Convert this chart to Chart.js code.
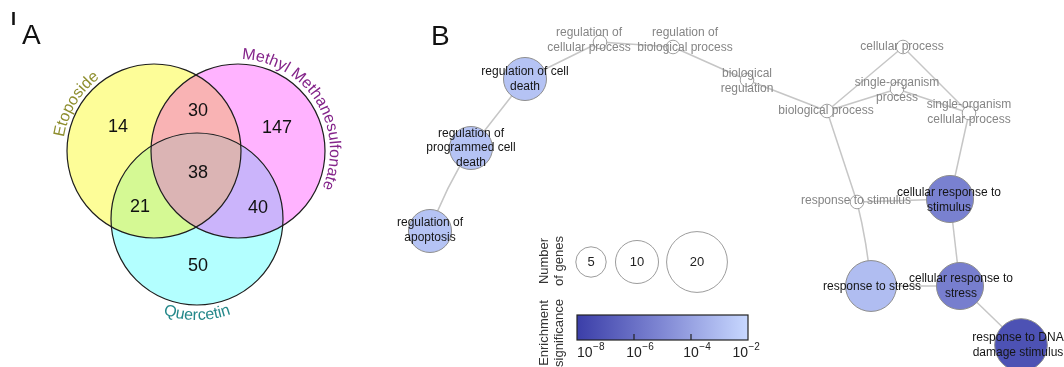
<!DOCTYPE html>
<html><head><meta charset="utf-8">
<script src="https://cdn.jsdelivr.net/npm/chart.js@4"></script>
<style>html,body{margin:0;padding:0;background:#fff}canvas{display:block}</style>
</head><body>
<canvas id="c" width="1064" height="367"></canvas>
<script>
// ---------- DATA ----------
// Panel A: Venn diagram
const vennSets = ['Etoposide', 'Methyl Methanesulfonate', 'Quercetin'];
const vennRegions = ['E', 'M', 'Q', 'E∩M', 'E∩Q', 'M∩Q', 'E∩M∩Q'];
const vennCounts = [14, 147, 50, 30, 21, 40, 38];

// Panel B: GO term network
const terms = [
  'regulation of cell death', 'regulation of programmed cell death', 'regulation of apoptosis',
  'regulation of cellular process', 'regulation of biological process', 'biological regulation',
  'biological process', 'cellular process', 'single-organism process', 'single-organism cellular process',
  'response to stimulus', 'cellular response to stimulus', 'response to stress',
  'cellular response to stress', 'response to DNA damage stimulus'
];
const geneCounts = [10, 10, 10, 1, 1, 1, 1, 1, 1, 1, 1, 12, 14, 12, 15];
const log10P = [-2.8, -2.8, -2.8, null, null, null, null, null, null, null, null, -5.3, -3.0, -5.4, -7.2];
const edgeFrom = [0, 0, 1, 3, 4, 5, 6, 6, 8, 7, 6, 9, 10, 10, 11, 12, 13];
const edgeTo   = [3, 1, 2, 4, 5, 6, 7, 8, 9, 9, 10, 11, 11, 12, 13, 13, 14];
const sizeLegendGenes = [5, 10, 20];
const colorbarTicks = [-8, -6, -4, -2];

// ---------- LAYOUT (positions / styles) ----------
const FONT = '"Liberation Sans", Arial, Helvetica, sans-serif';
const vennLayout = {
  cx: [154, 238, 197], cy: [151, 151, 219], r: [87, 87, 86],
  fills: ['#fdfd98', '#ffb3ff', '#b3ffff', '#f9b3b4', '#d5f994', '#cbb4fb', '#dbb4b4'],
  countX: [118, 277, 198, 198, 140, 258, 198],
  countY: [127, 128, 266, 111, 207, 208, 173],
  labelColor: ['#8e8e2e', '#84248a', '#24888a'],
  labelR: [91, 92, 101], labelAngle: [211, -32, 90], labelCW: [true, true, false]
};
const netLayout = {
  x: [525, 471, 430, 600, 673, 747, 827, 903, 897, 969, 857, 950, 871, 960, 1021],
  y: [79, 148, 231, 42, 47, 80, 111, 47, 89, 113, 202, 199, 286, 286, 345],
  labelLines: [
    ['regulation of cell', 'death'], ['regulation of', 'programmed cell', 'death'], ['regulation of', 'apoptosis'],
    ['regulation of', 'cellular process'], ['regulation of', 'biological process'], ['biological', 'regulation'],
    ['biological process'], ['cellular process'], ['single-organism', 'process'], ['single-organism', 'cellular process'],
    ['response to stimulus'], ['cellular response to', 'stimulus'], ['response to stress'],
    ['cellular response to', 'stress'], ['response to DNA', 'damage stimulus']
  ],
  labelX: [525, 471, 430, 589, 685, 747, 826, 902, 897, 969, 856, 949, 872, 961, 1018],
  labelY: [79, 148, 230, 40, 40, 81, 111, 47, 90, 112, 201, 200, 287, 286, 345],
  edgeCurve: [0, 0, 0.06, 0, 0, 0, 0, 0, 0, 0, 0, 0, 0, -0.04, 0, 0, 0],
  sizeLegendX: [591, 637, 697], sizeLegendY: 262,
  bar: {x0: 577, x1: 748, y0: 315, y1: 340}
};
const gradStops = [[59, 62, 168], [128, 136, 212], [200, 216, 255]];
function gradColor(t) {
  t = Math.max(0, Math.min(1, t));
  const s = t < 0.5 ? 0 : 1, lt = t < 0.5 ? t / 0.5 : (t - 0.5) / 0.5;
  const a = gradStops[s], b = gradStops[s + 1];
  return 'rgb(' + a.map((v, i) => Math.round(v + (b[i] - v) * lt)).join(',') + ')';
}
const pToT = p => (p - colorbarTicks[0]) / (colorbarTicks[colorbarTicks.length - 1] - colorbarTicks[0]);
const geneRadius = n => 6.8 * Math.sqrt(n);

// ---------- PLUGINS ----------
function arcText(ctx, text, cx, cy, R, centerDeg, cw, font, color) {
  ctx.save(); ctx.font = font; ctx.fillStyle = color; ctx.textAlign = 'center'; ctx.textBaseline = 'alphabetic';
  const chars = [...text];
  const w = chars.map(ch => ctx.measureText(ch).width);
  const total = w.reduce((a, b) => a + b, 0);
  const span = total / R, c0 = centerDeg * Math.PI / 180;
  let acc = 0;
  chars.forEach((ch, i) => {
    const off = (acc + w[i] / 2) / R - span / 2;
    const a = cw ? c0 + off : c0 - off;
    ctx.save();
    ctx.translate(cx + R * Math.cos(a), cy + R * Math.sin(a));
    ctx.rotate(cw ? a + Math.PI / 2 : a - Math.PI / 2);
    ctx.fillText(ch, 0, 0);
    ctx.restore();
    acc += w[i];
  });
  ctx.restore();
}

const vennFill = {
  id: 'vennFill',
  beforeDatasetsDraw(chart) {
    const ctx = chart.ctx;
    const c = chart.getDatasetMeta(0).data.map(e => ({x: e.x, y: e.y, r: e.options.radius}));
    const circ = k => { ctx.beginPath(); ctx.arc(c[k].x, c[k].y, c[k].r, 0, Math.PI * 2); };
    const f = vennLayout.fills;
    ctx.save();
    [0, 1, 2].forEach(k => { circ(k); ctx.fillStyle = f[k]; ctx.fill(); });
    [[0, 1, 3], [0, 2, 4], [1, 2, 5]].forEach(([a, b, ci]) => {
      ctx.save(); circ(a); ctx.clip(); circ(b); ctx.fillStyle = f[ci]; ctx.fill(); ctx.restore();
    });
    ctx.save(); circ(0); ctx.clip(); circ(1); ctx.clip(); circ(2); ctx.fillStyle = f[6]; ctx.fill(); ctx.restore();
    ctx.restore();
  }
};

const edgesPlugin = {
  id: 'edges',
  beforeDatasetsDraw(chart) {
    const ctx = chart.ctx, nodes = chart.getDatasetMeta(1).data;
    ctx.save(); ctx.strokeStyle = '#c6c6c6'; ctx.lineWidth = 1.5;
    edgeFrom.forEach((a, i) => {
      const p = nodes[a], q = nodes[edgeTo[i]];
      const k = netLayout.edgeCurve[i];
      const mx = (p.x + q.x) / 2, my = (p.y + q.y) / 2;
      const dx = q.x - p.x, dy = q.y - p.y;
      ctx.beginPath(); ctx.moveTo(p.x, p.y);
      ctx.quadraticCurveTo(mx - dy * k, my + dx * k, q.x, q.y);
      ctx.stroke();
    });
    ctx.restore();
  }
};

const textPlugin = {
  id: 'texts',
  afterDatasetsDraw(chart) {
    const ctx = chart.ctx, sx = chart.scales.x, sy = chart.scales.y;
    const X = v => sx.getPixelForValue(v), Y = v => sy.getPixelForValue(v);
    ctx.save();
    ctx.textAlign = 'left'; ctx.textBaseline = 'alphabetic'; ctx.fillStyle = '#111';
    ctx.font = 'bold 18px ' + FONT; ctx.fillText('I', X(11), Y(25));
    ctx.font = '28px ' + FONT; ctx.fillText('A', X(22), Y(44));
    ctx.fillText('B', X(431), Y(45));
    // Venn counts
    ctx.font = '18px ' + FONT; ctx.textAlign = 'center'; ctx.textBaseline = 'middle';
    vennCounts.forEach((n, i) => ctx.fillText(String(n), X(vennLayout.countX[i]), Y(vennLayout.countY[i])));
    // Venn set names
    const vm = chart.getDatasetMeta(0).data;
    vennSets.forEach((s, i) => arcText(ctx, s, vm[i].x, vm[i].y, vennLayout.labelR[i], vennLayout.labelAngle[i],
      vennLayout.labelCW[i], '16px ' + FONT, vennLayout.labelColor[i]));
    // Network labels
    ctx.font = '12px ' + FONT; ctx.textAlign = 'center'; ctx.textBaseline = 'middle';
    terms.forEach((t, i) => {
      const lines = netLayout.labelLines[i];
      ctx.fillStyle = log10P[i] == null ? '#858585' : '#151515';
      lines.forEach((ln, j) => ctx.fillText(ln, X(netLayout.labelX[i]), Y(netLayout.labelY[i] + (j - (lines.length - 1) / 2) * 14.5)));
    });
    // Size legend
    ctx.fillStyle = '#222'; ctx.font = '13px ' + FONT;
    sizeLegendGenes.forEach((g, i) => ctx.fillText(String(g), X(netLayout.sizeLegendX[i]), Y(netLayout.sizeLegendY)));
    // rotated titles
    const rot = (lines, x, y) => {
      ctx.save(); ctx.translate(X(x), Y(y)); ctx.rotate(-Math.PI / 2);
      ctx.fillStyle = '#333'; ctx.font = '13px ' + FONT; ctx.textAlign = 'center'; ctx.textBaseline = 'middle';
      lines.forEach((l, j) => ctx.fillText(l, 0, (j - (lines.length - 1) / 2) * 14.5));
      ctx.restore();
    };
    rot(['Number', 'of genes'], 552, 261);
    rot(['Enrichment', 'significance'], 552, 333);
    // Colour bar
    const b = netLayout.bar;
    const bx0 = X(b.x0), bx1 = X(b.x1), by0 = Y(b.y0), by1 = Y(b.y1);
    const g = ctx.createLinearGradient(bx0, 0, bx1, 0);
    [0, 0.5, 1].forEach(t => g.addColorStop(t, gradColor(t)));
    ctx.fillStyle = g; ctx.fillRect(bx0, by0, bx1 - bx0, by1 - by0);
    ctx.strokeStyle = '#222'; ctx.lineWidth = 1.2; ctx.strokeRect(bx0, by0, bx1 - bx0, by1 - by0);
    colorbarTicks.forEach((p, i) => {
      const tx = X(b.x0 + pToT(p) * (b.x1 - b.x0));
      const last = colorbarTicks.length - 1;
      if (i > 0 && i < last) {
        ctx.beginPath(); ctx.moveTo(tx, by1); ctx.lineTo(tx, by1 - 6); ctx.stroke();
      }
      ctx.fillStyle = '#222'; ctx.textBaseline = 'alphabetic'; ctx.textAlign = 'left';
      ctx.font = '14px ' + FONT; const w1 = ctx.measureText('10').width;
      const sup = String(p).replace('-', '\u2212');
      let left = tx - w1 / 2;
      if (i === 0) left = bx0;
      if (i === last) left = bx1 - w1;
      ctx.fillText('10', left, Y(357));
      ctx.font = '10px ' + FONT; ctx.fillText(sup, left + w1 + 0.5, Y(350));
    });
    ctx.restore();
  }
};

// ---------- CHART ----------
new Chart(document.getElementById('c'), {
  type: 'bubble',
  data: {
    datasets: [
      { label: 'Venn sets',
        data: vennSets.map((s, i) => ({x: vennLayout.cx[i], y: vennLayout.cy[i], r: vennLayout.r[i]})),
        backgroundColor: 'rgba(0,0,0,0)', borderColor: '#1e1e1e', borderWidth: 1.2 },
      { label: 'GO terms',
        data: terms.map((t, i) => ({x: netLayout.x[i], y: netLayout.y[i], r: geneRadius(geneCounts[i])})),
        backgroundColor: ctx => log10P[ctx.dataIndex] == null ? '#ffffff' : gradColor(pToT(log10P[ctx.dataIndex])),
        borderColor: ctx => log10P[ctx.dataIndex] == null ? '#a0a0a0' : '#8e8e8e', borderWidth: 1 },
      { label: 'Number of genes',
        data: sizeLegendGenes.map((g, i) => ({x: netLayout.sizeLegendX[i], y: netLayout.sizeLegendY, r: geneRadius(g)})),
        backgroundColor: '#ffffff', borderColor: '#9c9c9c', borderWidth: 1 }
    ]
  },
  options: {
    responsive: false, animation: false, devicePixelRatio: 1, events: [],
    layout: {padding: 0, autoPadding: false},
    scales: {
      x: {type: 'linear', min: 0, max: 1064, display: false},
      y: {type: 'linear', min: 0, max: 367, reverse: true, display: false}
    },
    plugins: {legend: {display: false}, tooltip: {enabled: false}}
  },
  plugins: [vennFill, edgesPlugin, textPlugin]
});
</script>
</body></html>
